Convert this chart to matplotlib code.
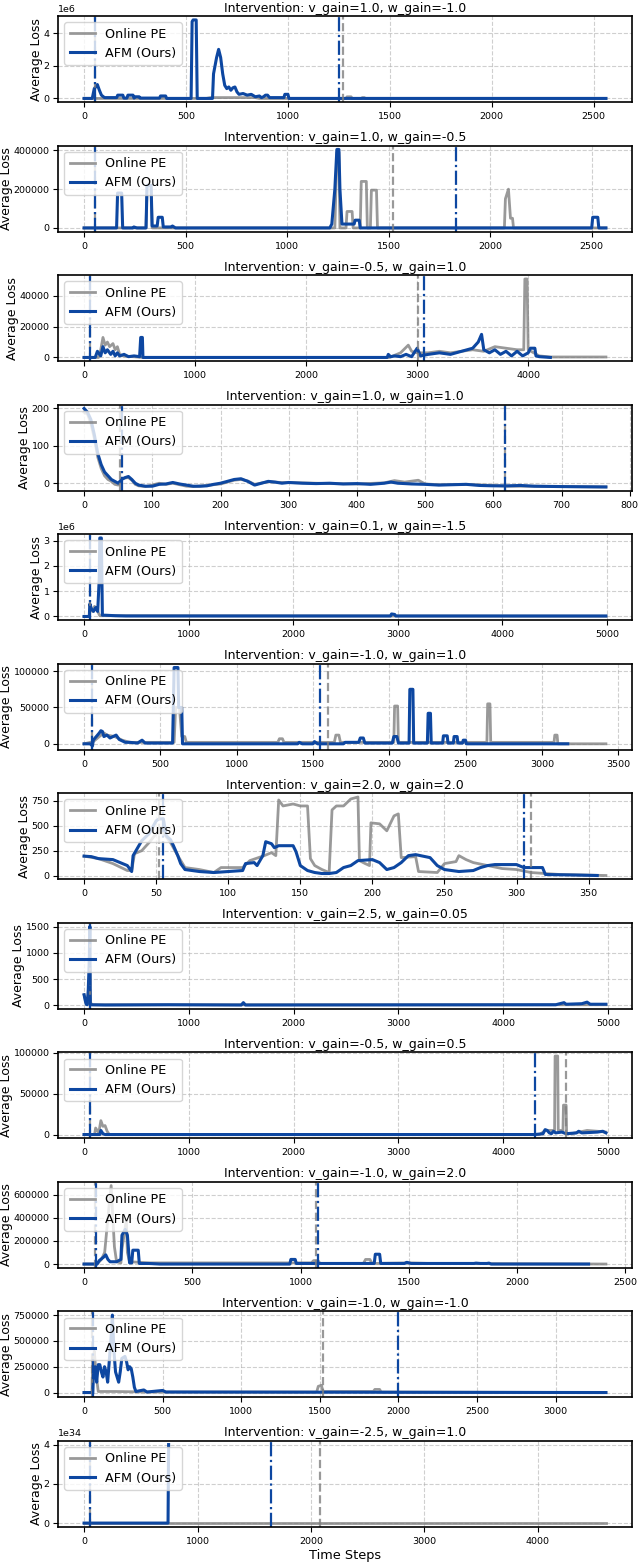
import matplotlib.pyplot as plt

# colours
BLUE = "#0d47a1"
GREY = "gray"

plt.rcParams["xtick.labelsize"] = 6.8
plt.rcParams["ytick.labelsize"] = 6.8

# titles of the 12 interventions
titles = [
    "Intervention: v_gain=1.0, w_gain=-1.0",
    "Intervention: v_gain=1.0, w_gain=-0.5",
    "Intervention: v_gain=-0.5, w_gain=1.0",
    "Intervention: v_gain=1.0, w_gain=1.0",
    "Intervention: v_gain=0.1, w_gain=-1.5",
    "Intervention: v_gain=-1.0, w_gain=1.0",
    "Intervention: v_gain=2.0, w_gain=2.0",
    "Intervention: v_gain=2.5, w_gain=0.05",
    "Intervention: v_gain=-0.5, w_gain=0.5",
    "Intervention: v_gain=-1.0, w_gain=2.0",
    "Intervention: v_gain=-1.0, w_gain=-1.0",
    "Intervention: v_gain=-2.5, w_gain=1.0",
]

# y values are given in units of scale[i]
scales = [1e6, 1e3, 1e3, 1, 1e6, 1e3, 1, 1, 1e3, 1e3, 1e3, 1e34]

# --- panel 1 ---
pe1_x = [0, 600, 620, 840, 860, 1285, 1290, 1310, 1315, 1360, 1365, 1375, 1380, 2560]
pe1_y = [0, 0, 0.05, 0.05, 0, 0, 0.1, 0.1, 0, 0, 0.05, 0.05, 0, 0]
afm1_x = [0, 40, 50, 60, 65, 75, 85, 100, 160, 165, 190, 195, 210, 215, 240, 245, 250, 270,
          275, 370, 375, 400, 405, 525, 530, 535, 550, 555, 630, 635, 650, 660, 670, 680, 690,
          700, 710, 720, 730, 740, 750, 760, 780, 800, 820, 840, 860, 870, 880, 890, 900, 910,
          980, 985, 1000, 1005, 2560]
afm1_y = [0, 0, 0.6, 0.75, 0.85, 0.5, 0.2, 0.05, 0.05, 0.2, 0.2, 0.02, 0.02, 0.2, 0.2, 0.02,
          0.1, 0.1, 0.02, 0.02, 0.15, 0.15, 0, 0, 4.7, 4.8, 4.8, 0, 0, 1.5, 2.5, 3.0, 2.5, 1.5,
          0.8, 0.6, 0.7, 0.5, 0.65, 0.7, 0.4, 0.25, 0.3, 0.2, 0.25, 0.1, 0.15, 0.05, 0.1, 0.2,
          0.2, 0.05, 0.05, 0.25, 0.25, 0, 0]

# --- panel 2 ---
pe2_x = [0, 305, 310, 330, 335, 1235, 1245, 1255, 1260, 1290, 1295, 1320, 1325, 1360, 1365,
         1390, 1395, 1410, 1415, 1440, 1445, 2070, 2075, 2090, 2100, 2110, 2115, 2570]
pe2_y = [0, 0, 220, 220, 0, 0, 390, 390, 0, 0, 85, 85, 0, 0, 240, 240, 0, 0, 195, 195, 0, 0,
         150, 200, 50, 50, 0, 0]
afm2_x = [0, 160, 165, 185, 190, 240, 245, 260, 305, 310, 330, 335, 360, 365, 385, 390, 430,
          435, 450, 1210, 1220, 1235, 1245, 1255, 1260, 1270, 1330, 1335, 1355, 1360, 2500,
          2505, 2530, 2535, 2570]
afm2_y = [0, 0, 180, 180, 0, 0, 5, 0, 0, 220, 220, 10, 10, 55, 55, 5, 5, 10, 0, 0, 20, 200,
          405, 405, 200, 20, 20, 40, 40, 0, 0, 55, 55, 0, 0]

# --- panel 3 ---
pe3_x = [0, 130, 150, 170, 190, 210, 230, 260, 280, 300, 320, 350, 530, 2750, 2850, 2920,
         2950, 3000, 3100, 3200, 3300, 3400, 3500, 3600, 3700, 3800, 3900, 3960, 3970, 3990,
         4000, 4050, 4100, 4200, 4700]
pe3_y = [0, 0, 5, 13, 8, 10, 7, 9, 5, 7, 2, 1, 0, 0, 3, 8, 4, 3, 3, 4, 3, 4, 5, 4, 7, 6, 5,
         5, 51, 51, 5, 3, 1, 0.3, 0.3]
afm3_x = [0, 100, 120, 150, 170, 190, 210, 240, 260, 280, 300, 320, 360, 400, 450, 500, 510,
          525, 530, 2730, 2740, 2760, 2800, 2850, 2900, 2950, 3000, 3030, 3100, 3200, 3300,
          3400, 3500, 3550, 3580, 3600, 3650, 3700, 3750, 3800, 3850, 3900, 3950, 4000, 4020,
          4060, 4070, 4100, 4200]
afm3_y = [0, 0, 4, 1, 7, 3, 5, 2, 4, 1, 3, 1, 2, 0.5, 1, 0.5, 13, 13, 0, 0, 2, 0.5, 1, 0.5,
          2, 0.5, 6, 1, 2, 3, 2, 4, 6, 10, 15, 5, 3, 5, 2, 4, 1, 4, 1, 3, 6, 6, 1, 0.5, 0]

# --- panel 4 ---
pe4_x = [0, 5, 10, 15, 20, 25, 30, 35, 40, 45, 50, 55, 60, 65, 70, 75, 80, 90, 100, 110, 120,
         130, 140, 150, 160, 180, 200, 210, 220, 230, 240, 250, 270, 290, 320, 360, 400, 440,
         455, 470, 490, 500, 520, 560, 600, 620, 660, 700, 765]
pe4_y = [190, 185, 160, 120, 70, 40, 20, 10, 5, -3, -5, 12, 14, 15, 8, -3, -7, -9, -5, 0, -3,
         0, -4, -8, -9, -6, -2, 3, 8, 10, 6, -3, 4, 2, 1, -1, -2, 1, 7, 3, 8, -2, -4, -3, -6,
         -8, -8, -9, -10]
afm4_x = [0, 5, 10, 15, 20, 25, 30, 35, 40, 45, 50, 55, 60, 65, 70, 75, 80, 90, 100, 110, 120,
          130, 140, 150, 160, 170, 180, 190, 200, 210, 220, 230, 240, 250, 260, 270, 280, 290,
          300, 320, 340, 360, 380, 400, 420, 440, 450, 460, 480, 500, 520, 540, 560, 580, 600,
          620, 640, 660, 700, 765]
afm4_y = [200, 190, 170, 130, 80, 50, 30, 20, 10, 5, 0, 10, 15, 18, 10, 0, -5, -8, -8, -3, -2,
          2, -2, -5, -8, -8, -7, -3, 0, 5, 10, 12, 5, -5, 0, 5, 3, 0, 2, 0, -1, 0, -2, -1, -3,
          0, 3, 0, -2, -3, -5, -4, -3, -6, -7, -7, -6, -8, -9, -10]

# --- panel 5 ---
pe5_x = [0, 50, 55, 80, 100, 130, 150, 4990]
pe5_y = [0, 0, 0.4, 0.2, 0.4, 0.2, 0.03, 0.01]
afm5_x = [0, 50, 55, 70, 90, 110, 130, 145, 150, 165, 175, 200, 300, 400, 2930, 2940, 2970,
          2980, 4990]
afm5_y = [0, 0, 0.5, 0.3, 0.2, 0.35, 0.2, 1.5, 3.1, 3.1, 0.05, 0.05, 0.03, 0.02, 0.02, 0.1,
          0.08, 0.02, 0.02]

# --- panel 6 ---
pe6_x = [0, 60, 100, 130, 150, 200, 250, 300, 590, 600, 625, 640, 660, 670, 1270, 1280, 1300,
         1310, 1640, 1650, 1670, 1680, 2030, 2035, 2055, 2060, 2640, 2645, 2660, 2665, 3080,
         3085, 3100, 3105, 3420]
pe6_y = [0, 3, 10, 15, 12, 10, 5, 2, 2, 50, 50, 10, 10, 2, 2, 7, 7, 2, 2, 12, 12, 2, 2, 52,
         52, 2, 2, 55, 55, 2, 2, 12, 12, 0, 0]
afm6_x = [0, 40, 55, 60, 80, 100, 110, 120, 130, 150, 170, 190, 210, 230, 250, 270, 300, 350,
          380, 400, 580, 585, 590, 615, 620, 640, 645, 1400, 1410, 1430, 1500, 1510, 1530,
          1700, 1710, 1800, 1810, 1830, 1840, 2020, 2030, 2050, 2060, 2130, 2135, 2155, 2160,
          2250, 2255, 2270, 2275, 2350, 2355, 2380, 2385, 2420, 2425, 2445, 2450, 2480, 2485,
          2500, 2505, 3170]
afm6_y = [0, 0, -3, 5, 10, 15, 18, 17, 10, 12, 8, 10, 12, 6, 4, 2, 2, 1, 5, 1, 1, 50, 105,
          105, 50, 50, 0, 0, 2, 0, 0, 3, 0, 0, 2, 2, 8, 8, 1, 1, 10, 10, 1, 1, 75, 75, 1, 1,
          42, 42, 1, 1, 11, 11, 1, 1, 10, 10, 1, 1, 5, 5, 0, 0]

# --- panel 7 ---
pe7_x = [0, 10, 20, 30, 33, 35, 40, 45, 50, 55, 60, 65, 70, 80, 90, 95, 110, 115, 125, 130,
         133, 135, 138, 145, 150, 155, 157, 160, 165, 170, 172, 175, 180, 185, 190, 191, 195,
         198, 199, 205, 210, 215, 218, 220, 230, 232, 245, 250, 258, 260, 265, 270, 280, 290,
         300, 310, 330, 362]
pe7_y = [195, 170, 120, 50, 50, 220, 250, 330, 420, 430, 330, 200, 80, 60, 30, 80, 80, 150,
         200, 230, 200, 760, 700, 720, 700, 700, 170, 100, 60, 30, 660, 700, 700, 770, 790,
         150, 120, 100, 530, 520, 450, 600, 620, 180, 190, 40, 30, 120, 140, 200, 160, 130,
         100, 70, 60, 30, 10, 0]
afm7_x = [0, 5, 10, 15, 20, 25, 30, 33, 34, 40, 45, 50, 52, 55, 57, 60, 62, 65, 67, 70, 75,
          80, 90, 100, 110, 112, 118, 120, 124, 126, 130, 132, 135, 145, 147, 150, 155, 160,
          165, 170, 175, 180, 185, 190, 200, 205, 210, 215, 220, 225, 230, 240, 245, 250, 255,
          260, 270, 275, 280, 285, 300, 305, 318, 320, 340, 356]
afm7_y = [195, 190, 170, 165, 160, 130, 100, 40, 200, 350, 420, 550, 570, 570, 400, 360, 300,
          200, 120, 60, 50, 40, 30, 40, 50, 120, 130, 100, 200, 340, 320, 280, 300, 300, 240,
          100, 50, 30, 20, 20, 30, 80, 100, 150, 160, 130, 60, 80, 130, 200, 210, 180, 100,
          60, 50, 40, 50, 80, 100, 110, 110, 80, 80, 10, 5, 0]

# --- panel 8 ---
pe8_x = [0, 20, 40, 55, 60, 80, 4980]
pe8_y = [200, 50, 200, 700, 50, 10, 10]
afm8_x = [0, 10, 20, 30, 40, 50, 55, 58, 60, 200, 800, 1500, 1520, 1540, 4500, 4580, 4600,
          4750, 4800, 4830, 4980]
afm8_y = [200, 100, 20, 10, 300, 900, 1500, 300, 10, 5, 10, 5, 50, 5, 10, 50, 20, 30, 60,
          20, 20]

# --- panel 9 ---
pe9_x = [0, 100, 110, 140, 160, 180, 200, 220, 240, 4350, 4400, 4490, 4495, 4520, 4525, 4570,
         4575, 4600, 4605, 4650, 4800, 4900, 4980]
pe9_y = [0, 0, 8, 2, 17, 10, 11, 4, 0, 0, 5, 5, 96, 96, 5, 5, 36, 36, 1, 1, 5, 4, 3]
afm9_x = [0, 150, 160, 180, 200, 4300, 4380, 4400, 4420, 4440, 4460, 4480, 4500, 4560, 4600,
          4700, 4720, 4750, 4900, 4950, 4980]
afm9_y = [0, 0, 5, 1, 0, 0, 1, 6, 5, 2, 1, 4, 2, 3, 1, 2, 4, 2, 3, 4, 2]

# --- panel 10 ---
pe10_x = [0, 60, 80, 95, 105, 115, 125, 130, 140, 150, 170, 175, 195, 200, 210, 300, 1050,
          1060, 1080, 1090, 1290, 1300, 1320, 1330, 1500, 1600, 2410]
pe10_y = [0, 0, 40, 100, 300, 500, 680, 500, 150, 20, 10, 130, 380, 100, 20, 10, 10, 30, 30,
          5, 5, 40, 40, 5, 10, 5, 0]
afm10_x = [0, 60, 70, 90, 100, 110, 120, 150, 170, 175, 190, 200, 210, 220, 225, 250, 255,
           300, 350, 950, 955, 975, 980, 1340, 1345, 1365, 1370, 1480, 1490, 1510, 1800, 1810,
           1830, 1860, 1870, 1880, 2330]
afm10_y = [0, 0, 30, 60, 80, 40, 20, 20, 40, 250, 300, 250, 10, 10, 120, 120, 5, 5, 0, 0, 40,
           40, 5, 5, 85, 85, 5, 5, 15, 5, 5, 8, 5, 5, 8, 0, 0]

# --- panel 11 ---
pe11_x = [0, 50, 55, 65, 75, 90, 200, 400, 1480, 1490, 1510, 1520, 1840, 1850, 1880, 1890,
          3320]
pe11_y = [0, 0, 300, 400, 200, 10, 10, 5, 5, 60, 70, 10, 10, 30, 30, 5, 0]
afm11_x = [0, 50, 55, 60, 70, 80, 90, 100, 110, 120, 130, 140, 150, 160, 170, 180, 190, 200,
           210, 220, 230, 240, 260, 270, 280, 290, 300, 310, 320, 330, 380, 400, 500, 520,
           3320]
afm11_y = [0, 0, -10, 200, 250, 100, 270, 270, 200, 150, 250, 200, 100, 300, 500, 750, 400,
           200, 150, 100, 200, 330, 350, 300, 220, 250, 230, 150, 50, 10, 25, 5, 20, 5, 0]

# --- panel 12 ---
pe12_x = [0, 4600]
pe12_y = [0, 0]
afm12_x = [0, 740, 745]
afm12_y = [0, 0, 4.0]

pe_x = [pe1_x, pe2_x, pe3_x, pe4_x, pe5_x, pe6_x, pe7_x, pe8_x, pe9_x, pe10_x, pe11_x, pe12_x]
pe_y = [pe1_y, pe2_y, pe3_y, pe4_y, pe5_y, pe6_y, pe7_y, pe8_y, pe9_y, pe10_y, pe11_y, pe12_y]
afm_x = [afm1_x, afm2_x, afm3_x, afm4_x, afm5_x, afm6_x, afm7_x, afm8_x, afm9_x, afm10_x,
         afm11_x, afm12_x]
afm_y = [afm1_y, afm2_y, afm3_y, afm4_y, afm5_y, afm6_y, afm7_y, afm8_y, afm9_y, afm10_y,
         afm11_y, afm12_y]

# detection / switch points (grey dashed = Online PE, blue dash-dot = AFM)
pe_switch = [[52, 1270], [52, 1520], [52, 3010], [53, 617], [52], [52, 1600], [52, 310],
             [52], [52, 4600], [52, 1070], [52, 1520], [52, 2080]]
afm_switch = [[55, 1250], [55, 1830], [55, 3060], [55, 617], [55], [55, 1545], [55, 305],
              [55], [55, 4300], [55, 1080], [55, 2000], [55, 1650]]

fig, axes = plt.subplots(12, 1, figsize=(6.4, 15.62), dpi=100)

for i, ax in enumerate(axes):
    s = scales[i]
    ax.plot(pe_x[i], [v * s for v in pe_y[i]], color=GREY, lw=2.0, alpha=0.8, label="Online PE")
    ax.plot(afm_x[i], [v * s for v in afm_y[i]], color=BLUE, lw=2.2, label="AFM (Ours)")
    for xv in pe_switch[i]:
        ax.axvline(xv, color=GREY, ls="--", lw=1.6, alpha=0.8)
    for xv in afm_switch[i]:
        ax.axvline(xv, color=BLUE, ls="-.", lw=1.6)
    ax.set_title(titles[i], fontsize=9, pad=3)
    ax.set_ylabel("Average Loss", fontsize=9, labelpad=0.5)
    ax.tick_params(axis="y", pad=2.5)
    ax.grid(True, ls="--", alpha=0.6)
    ax.legend(loc="upper left", fontsize=9.2)
    for sp in ax.spines.values():
        sp.set_linewidth(1.2)

axes[-1].set_xlabel("Time Steps", fontsize=9.3, labelpad=2)

plt.subplots_adjust(left=58 / 640, right=632 / 640, top=1 - 16 / 1562, bottom=35 / 1562,
                    hspace=0.50)
plt.savefig("out.png")
